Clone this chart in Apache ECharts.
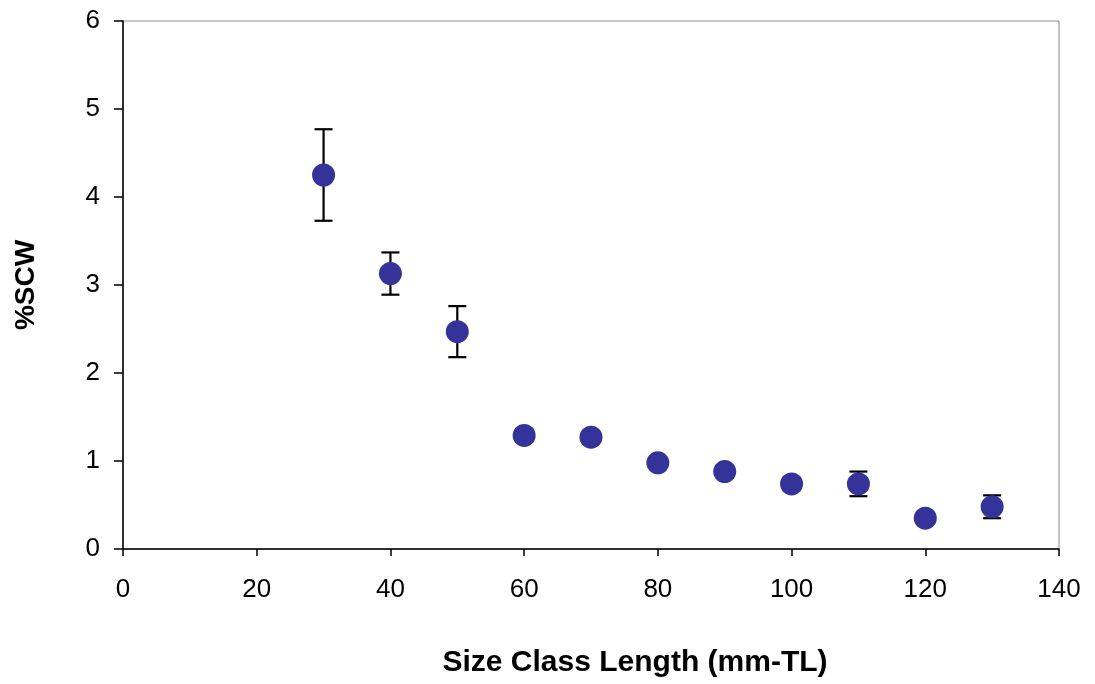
<!DOCTYPE html>
<html>
<head>
<meta charset="utf-8">
<script src="https://cdn.jsdelivr.net/npm/echarts@6/dist/echarts.min.js"></script>
<style>
  html, body { margin: 0; padding: 0; background: #fff; }
  #chart { width: 1095px; height: 684px; }
</style>
</head>
<body>
<div id="chart"></div>
<script>
// Size classes (mm total length) and mean %SCW with error margins
const sizeClass = [30, 40, 50, 60, 70, 80, 90, 100, 110, 120, 130];
const scwMean   = [4.25, 3.13, 2.47, 1.29, 1.27, 0.98, 0.88, 0.74, 0.74, 0.35, 0.48];
const scwError  = [0.52, 0.24, 0.29, 0.07, 0.07, 0.04, 0.07, 0.07, 0.14, 0.03, 0.13];

const xTitle = 'Size Class Length (mm-TL)';
const yTitle = '%SCW';

const points = sizeClass.map((x, i) => [x, scwMean[i]]);
const bars = sizeClass.map((x, i) => [x, scwMean[i] - scwError[i], scwMean[i] + scwError[i]]);

const font = '"Liberation Sans", Arial, sans-serif';

const chart = echarts.init(document.getElementById('chart'));
chart.setOption({
  backgroundColor: '#fff',
  animation: false,
  grid: {
    left: 123, right: 36, top: 21, bottom: 135,
    show: true, borderColor: '#8c8c8c', borderWidth: 1
  },
  xAxis: {
    type: 'value', min: 0, max: 140, interval: 20,
    name: xTitle, nameLocation: 'middle', nameGap: 99,
    nameTextStyle: {
      fontFamily: font, fontSize: 30, fontWeight: 'bold', color: '#000',
      padding: [0, 0, 0, 88]
    },
    axisLine: { show: true, onZero: false, lineStyle: { color: '#000', width: 1.5 } },
    axisTick: { show: true, inside: false, length: 7, lineStyle: { color: '#000', width: 1.5 } },
    axisLabel: { fontFamily: font, fontSize: 26, color: '#000', margin: 28 },
    splitLine: { show: false }
  },
  yAxis: {
    type: 'value', min: 0, max: 6, interval: 1,
    name: yTitle, nameLocation: 'middle', nameGap: 83, nameRotate: 90,
    nameTextStyle: { fontFamily: font, fontSize: 28, fontWeight: 'bold', color: '#000' },
    axisLine: { show: true, onZero: false, lineStyle: { color: '#000', width: 1.5 } },
    axisTick: { show: true, inside: false, length: 9, lineStyle: { color: '#000', width: 1.5 } },
    axisLabel: { fontFamily: font, fontSize: 26, color: '#000', margin: 23 },
    splitLine: { show: false }
  },
  series: [
    {
      type: 'custom',
      z: 2,
      data: bars,
      renderItem: function (params, api) {
        const x = api.value(0);
        const lo = api.coord([x, api.value(1)]);
        const hi = api.coord([x, api.value(2)]);
        const half = 9;
        const style = { stroke: '#000', lineWidth: 2.2, fill: null };
        return {
          type: 'group',
          children: [
            { type: 'line', shape: { x1: lo[0], y1: lo[1], x2: hi[0], y2: hi[1] }, style: style },
            { type: 'line', shape: { x1: hi[0] - half, y1: hi[1], x2: hi[0] + half, y2: hi[1] }, style: style },
            { type: 'line', shape: { x1: lo[0] - half, y1: lo[1], x2: lo[0] + half, y2: lo[1] }, style: style }
          ]
        };
      }
    },
    {
      type: 'scatter',
      z: 3,
      data: points,
      symbol: 'circle',
      symbolSize: 23,
      itemStyle: { color: '#333399', opacity: 1 }
    }
  ]
});
</script>
</body>
</html>
